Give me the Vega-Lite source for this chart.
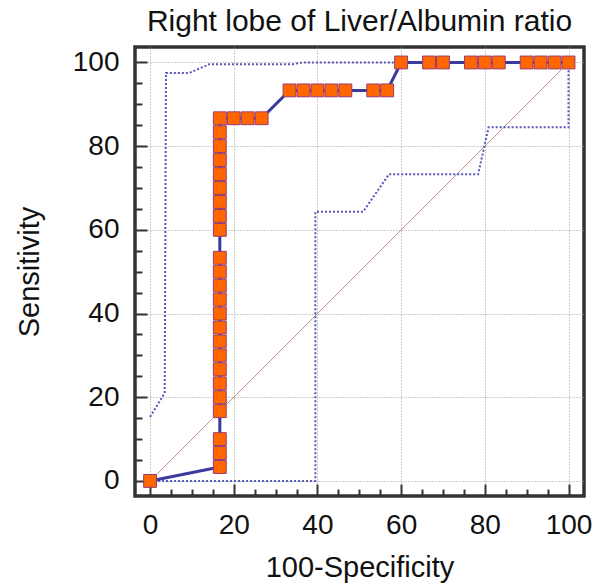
{
  "$schema": "https://vega.github.io/schema/vega-lite/v6.json",
  "width": 449,
  "height": 449,
  "autosize": "none",
  "padding": {"left": 135, "top": 47, "right": 11, "bottom": 89},
  "background": "white",
  "config": {
    "view": {"stroke": "#333333", "strokeWidth": 3.5},
    "font": "Liberation Sans"
  },
  "title": {
    "text": "Right lobe of Liver/Albumin ratio",
    "font": "Liberation Sans",
    "fontSize": 30,
    "fontWeight": "normal",
    "color": "#111111",
    "anchor": "middle",
    "offset": 10
  },
  "datasets": {
    "roc": [
      {"o": 0, "x": 0, "y": 0},
      {"o": 1, "x": 16.67, "y": 3.33},
      {"o": 2, "x": 16.67, "y": 6.67},
      {"o": 3, "x": 16.67, "y": 10},
      {"o": 4, "x": 16.67, "y": 16.67},
      {"o": 5, "x": 16.67, "y": 20},
      {"o": 6, "x": 16.67, "y": 23.33},
      {"o": 7, "x": 16.67, "y": 26.67},
      {"o": 8, "x": 16.67, "y": 30},
      {"o": 9, "x": 16.67, "y": 33.33},
      {"o": 10, "x": 16.67, "y": 36.67},
      {"o": 11, "x": 16.67, "y": 40},
      {"o": 12, "x": 16.67, "y": 43.33},
      {"o": 13, "x": 16.67, "y": 46.67},
      {"o": 14, "x": 16.67, "y": 50},
      {"o": 15, "x": 16.67, "y": 53.33},
      {"o": 16, "x": 16.67, "y": 60},
      {"o": 17, "x": 16.67, "y": 63.33},
      {"o": 18, "x": 16.67, "y": 66.67},
      {"o": 19, "x": 16.67, "y": 70},
      {"o": 20, "x": 16.67, "y": 73.33},
      {"o": 21, "x": 16.67, "y": 76.67},
      {"o": 22, "x": 16.67, "y": 80},
      {"o": 23, "x": 16.67, "y": 83.33},
      {"o": 24, "x": 16.67, "y": 86.67},
      {"o": 25, "x": 20, "y": 86.67},
      {"o": 26, "x": 23.33, "y": 86.67},
      {"o": 27, "x": 26.67, "y": 86.67},
      {"o": 28, "x": 33.33, "y": 93.33},
      {"o": 29, "x": 36.67, "y": 93.33},
      {"o": 30, "x": 40, "y": 93.33},
      {"o": 31, "x": 43.33, "y": 93.33},
      {"o": 32, "x": 46.67, "y": 93.33},
      {"o": 33, "x": 53.33, "y": 93.33},
      {"o": 34, "x": 56.67, "y": 93.33},
      {"o": 35, "x": 60, "y": 100},
      {"o": 36, "x": 66.67, "y": 100},
      {"o": 37, "x": 70, "y": 100},
      {"o": 38, "x": 76.67, "y": 100},
      {"o": 39, "x": 80, "y": 100},
      {"o": 40, "x": 83.33, "y": 100},
      {"o": 41, "x": 90, "y": 100},
      {"o": 42, "x": 93.33, "y": 100},
      {"o": 43, "x": 96.67, "y": 100},
      {"o": 44, "x": 100, "y": 100}
    ],
    "upper": [
      {"o": 0, "x": 0, "y": 15.3},
      {"o": 1, "x": 3.5, "y": 21},
      {"o": 2, "x": 3.8, "y": 97.5},
      {"o": 3, "x": 9.4, "y": 97.5},
      {"o": 4, "x": 14.2, "y": 99.6},
      {"o": 5, "x": 34.1, "y": 99.6},
      {"o": 6, "x": 36.5, "y": 100},
      {"o": 7, "x": 100, "y": 100}
    ],
    "lower": [
      {"o": 0, "x": 0, "y": 0},
      {"o": 1, "x": 39.5, "y": 0},
      {"o": 2, "x": 39.5, "y": 64.3},
      {"o": 3, "x": 50.9, "y": 64.3},
      {"o": 4, "x": 57.1, "y": 73.3},
      {"o": 5, "x": 78.4, "y": 73.3},
      {"o": 6, "x": 80.9, "y": 84.5},
      {"o": 7, "x": 100, "y": 84.5},
      {"o": 8, "x": 100, "y": 100}
    ],
    "diag": [
      {"x": 0, "y": 0, "x2": 100, "y2": 100}
    ]
  },
  "encoding": {
    "x": {
      "field": "x",
      "type": "quantitative",
      "scale": {"domain": [-3.6, 103.7], "nice": false, "zero": false},
      "axis": {
        "title": "100-Specificity",
        "values": [0, 5, 10, 15, 20, 25, 30, 35, 40, 45, 50, 55, 60, 65, 70, 75, 80, 85, 90, 95, 100],
        "labelExpr": "datum.value % 20 === 0 ? datum.label : ''",
        "labelOverlap": false,
        "labelFlush": false,
        "tickSize": {"condition": {"test": "datum.value % 20 === 0", "value": -12}, "value": -7},
        "gridOpacity": {"condition": {"test": "datum.value % 20 === 0", "value": 1}, "value": 0},
        "grid": true,
        "gridColor": "#999999",
        "gridDash": [1, 2],
        "gridWidth": 1,
        "domain": false,
        "tickColor": "#333333",
        "tickWidth": 2,
        "labelFont": "Liberation Sans",
        "labelFontSize": 28,
        "labelColor": "#111111",
        "labelPadding": 27,
        "titleFont": "Liberation Sans",
        "titleFontSize": 29,
        "titleFontWeight": "normal",
        "titleColor": "#111111",
        "titlePadding": 9
      }
    },
    "y": {
      "field": "y",
      "type": "quantitative",
      "scale": {"domain": [-3.6, 103.7], "nice": false, "zero": false},
      "axis": {
        "title": "Sensitivity",
        "values": [0, 5, 10, 15, 20, 25, 30, 35, 40, 45, 50, 55, 60, 65, 70, 75, 80, 85, 90, 95, 100],
        "labelExpr": "datum.value % 20 === 0 ? datum.label : ''",
        "labelOverlap": false,
        "labelFlush": false,
        "tickSize": {"condition": {"test": "datum.value % 20 === 0", "value": -12}, "value": -7},
        "gridOpacity": {"condition": {"test": "datum.value % 20 === 0", "value": 1}, "value": 0},
        "grid": true,
        "gridColor": "#999999",
        "gridDash": [1, 2],
        "gridWidth": 1,
        "domain": false,
        "tickColor": "#333333",
        "tickWidth": 2,
        "labelFont": "Liberation Sans",
        "labelFontSize": 28,
        "labelColor": "#111111",
        "labelPadding": 28,
        "titleFont": "Liberation Sans",
        "titleFontSize": 29,
        "titleFontWeight": "normal",
        "titleColor": "#111111",
        "titlePadding": 28
      }
    }
  },
  "layer": [
    {
      "data": {"name": "diag"},
      "mark": {"type": "rule", "color": "#A04848", "strokeWidth": 1, "opacity": 0.6},
      "encoding": {
        "x2": {"field": "x2"},
        "y2": {"field": "y2"}
      }
    },
    {
      "data": {"name": "upper"},
      "mark": {"type": "line", "color": "#5555BB", "strokeWidth": 2, "strokeDash": [2, 2]},
      "encoding": {"order": {"field": "o", "type": "quantitative"}}
    },
    {
      "data": {"name": "lower"},
      "mark": {"type": "line", "color": "#5555BB", "strokeWidth": 2, "strokeDash": [2, 2]},
      "encoding": {"order": {"field": "o", "type": "quantitative"}}
    },
    {
      "data": {"name": "roc"},
      "mark": {"type": "line", "color": "#3A3A9E", "strokeWidth": 3},
      "encoding": {"order": {"field": "o", "type": "quantitative"}}
    },
    {
      "data": {"name": "roc"},
      "mark": {"type": "point", "shape": "square", "filled": true, "size": 165, "fill": "#FF6600", "stroke": "#9B3A72", "strokeWidth": 1, "opacity": 1}
    }
  ]
}
